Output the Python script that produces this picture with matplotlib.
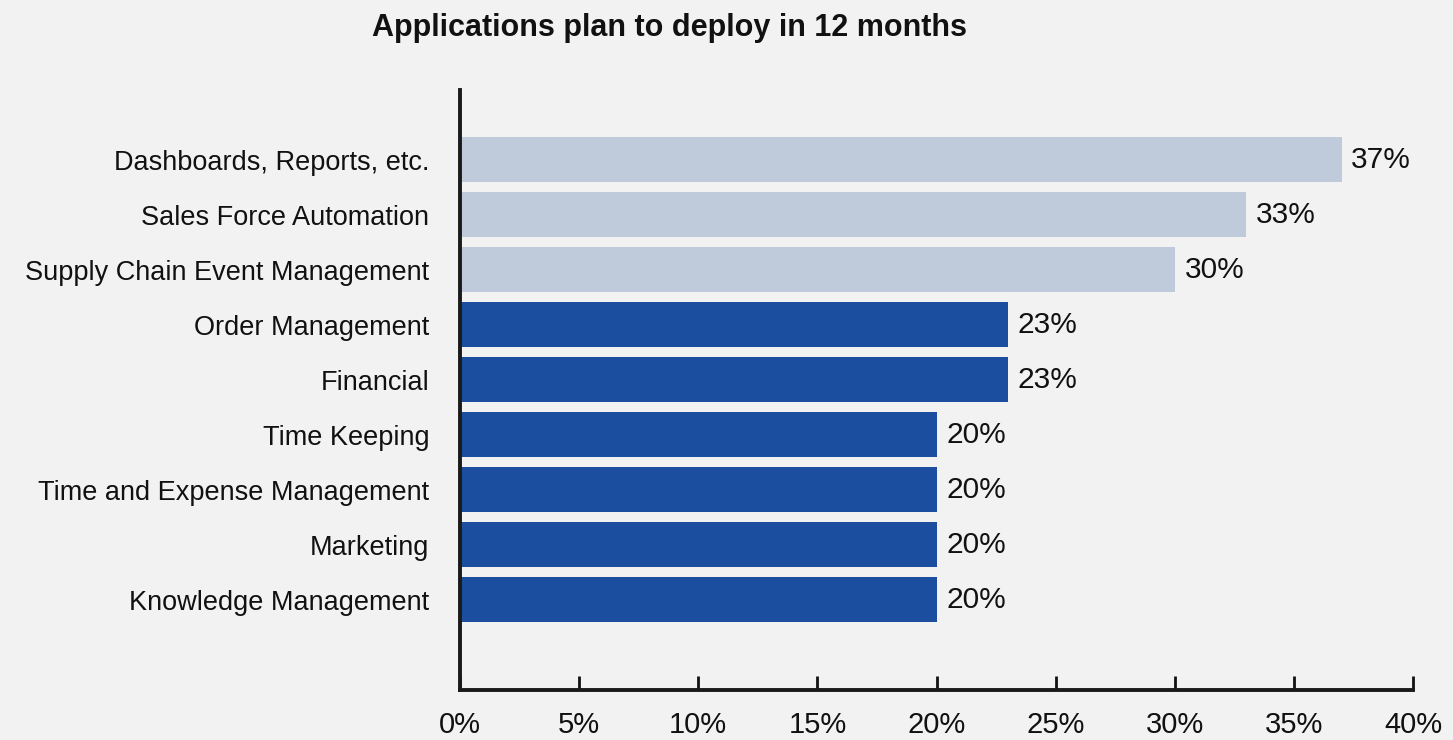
import matplotlib.pyplot as plt
from matplotlib.ticker import FuncFormatter

plt.rcParams['font.family'] = ['Liberation Sans', 'DejaVu Sans']

# Data
applications = [
    'Dashboards, Reports, etc.',
    'Sales Force Automation',
    'Supply Chain Event Management',
    'Order Management',
    'Financial',
    'Time Keeping',
    'Time and Expense Management',
    'Marketing',
    'Knowledge Management',
]
percent = [37, 33, 30, 23, 23, 20, 20, 20, 20]
highlight = [True, True, True, False, False, False, False, False, False]

light_blue = '#bfcadb'
dark_blue = '#1b4e9e'
bg = '#f2f2f2'

fig = plt.figure(figsize=(14.53, 7.40), dpi=100, facecolor=bg)
ax = fig.add_axes([0.3166, 0.0676, 0.6559, 0.8108], facecolor=bg)

ypos = list(range(len(applications)))
colors = [light_blue if h else dark_blue for h in highlight]
ax.barh(ypos, percent, height=0.82, color=colors, zorder=2)

# value labels at the bar ends
for y, v in zip(ypos, percent):
    ax.annotate(f'{v}%', xy=(v, y), xytext=(7, 0), textcoords='offset points',
                ha='left', va='center', fontsize=21.5, color='#111111')

ax.set_xlim(0, 40)
ax.set_ylim(len(applications) - 1 + 1.64, -1.27)
ax.set_xticks(range(0, 41, 5))
ax.xaxis.set_major_formatter(FuncFormatter(lambda x, _: f'{x:.0f}%'))
ax.set_yticks(ypos)
ax.set_yticklabels(applications)

ax.tick_params(axis='x', direction='in', length=10, width=2, pad=15,
               labelsize=21, colors='#111111')
ax.tick_params(axis='y', length=0, pad=22, labelsize=19.5, labelcolor='#111111')

for side in ['top', 'right']:
    ax.spines[side].set_visible(False)
for side in ['left', 'bottom']:
    ax.spines[side].set_linewidth(2.8)
    ax.spines[side].set_color('#1a1a1a')

fig.text(0.461, 0.962, 'Applications plan to deploy in 12 months', ha='center',
         va='center', fontsize=22, fontweight='bold', color='#111111')

fig.savefig('out.png', dpi=100, facecolor=bg)
